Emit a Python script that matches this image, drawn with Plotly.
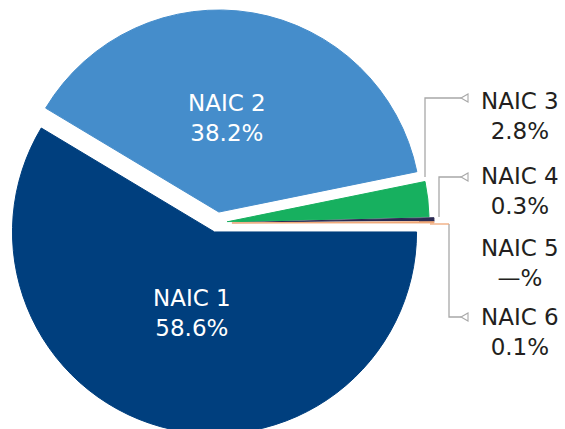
import plotly.graph_objects as go

categories = ["NAIC 1", "NAIC 2", "NAIC 3", "NAIC 4", "NAIC 5", "NAIC 6"]
values = [58.6, 38.2, 2.8, 0.3, 0.0, 0.1]
value_labels = ["58.6%", "38.2%", "2.8%", "0.3%", "—%", "0.1%"]

colors = ["#003f7e", "#458dcb", "#17b05f", "#2b2a52", "#ffffff", "#f0a878"]
pulls = [0.046, 0.055, 0.05, 0.074, 0.0, 0.074]

W, H = 565, 446
FONT = "DejaVu Sans"
FS = 23


def X(p):
    return p / W


def Y(p):
    return 1 - p / H


fig = go.Figure(
    go.Pie(
        labels=categories,
        values=values,
        sort=False,
        direction="clockwise",
        rotation=90,
        pull=pulls,
        marker=dict(colors=colors, line=dict(width=1, color=colors)),
        textinfo="none",
        hoverinfo="skip",
        showlegend=False,
        domain=dict(x=[0, 434 / W], y=[0, 1]),
    )
)

# label anchor positions (layout, in pixels)
label_pos = {
    "NAIC 1": (192, 313, "white"),
    "NAIC 2": (227, 118, "white"),
    "NAIC 3": (520, 116, "#231f20"),
    "NAIC 4": (520, 191, "#231f20"),
    "NAIC 5": (520, 263, "#231f20"),
    "NAIC 6": (520, 332, "#231f20"),
}
annotations = []
for c, v in zip(categories, value_labels):
    x, y, col = label_pos[c]
    annotations.append(
        dict(
            x=X(x), y=Y(y), xref="paper", yref="paper",
            xanchor="center", yanchor="middle", showarrow=False,
            text=f"{c}<br>{v}",
            font=dict(family=FONT, size=FS, color=col),
        )
    )

GRAY = "#a8a8a8"


def path(pts):
    return "M " + " L ".join(f"{X(a):.5f},{Y(b):.5f}" for a, b in pts)


def tri(tx, ty):
    return path([(tx, ty), (tx + 7, ty - 4), (tx + 7, ty + 4)]) + " Z"


shapes = []
leaders = [
    [(425, 177), (425, 98), (461, 98)],
    [(439, 217), (439, 177), (461, 177)],
    [(449, 224), (449, 317), (461, 317)],
]
for pts in leaders:
    shapes.append(dict(type="path", xref="paper", yref="paper", path=path(pts),
                       line=dict(color=GRAY, width=1.3)))
    shapes.append(dict(type="path", xref="paper", yref="paper", path=tri(*pts[-1]),
                       line=dict(color=GRAY, width=1.1), fillcolor="white"))
# NAIC 6 connector continues the slice colour
shapes.append(dict(type="line", xref="paper", yref="paper", x0=X(430), x1=X(449),
                   y0=Y(224), y1=Y(224), line=dict(color=colors[5], width=1.3)))

fig.update_layout(
    width=W, height=H,
    margin=dict(l=0, r=0, t=0, b=0),
    paper_bgcolor="white", plot_bgcolor="white",
    annotations=annotations, shapes=shapes,
    font=dict(family=FONT),
)

fig.write_html(
    "out.html",
    config={"displayModeBar": False},
    post_script="document.documentElement.style.overflow='hidden';"
                "document.body.style.overflow='hidden';document.body.style.margin='0';",
)
